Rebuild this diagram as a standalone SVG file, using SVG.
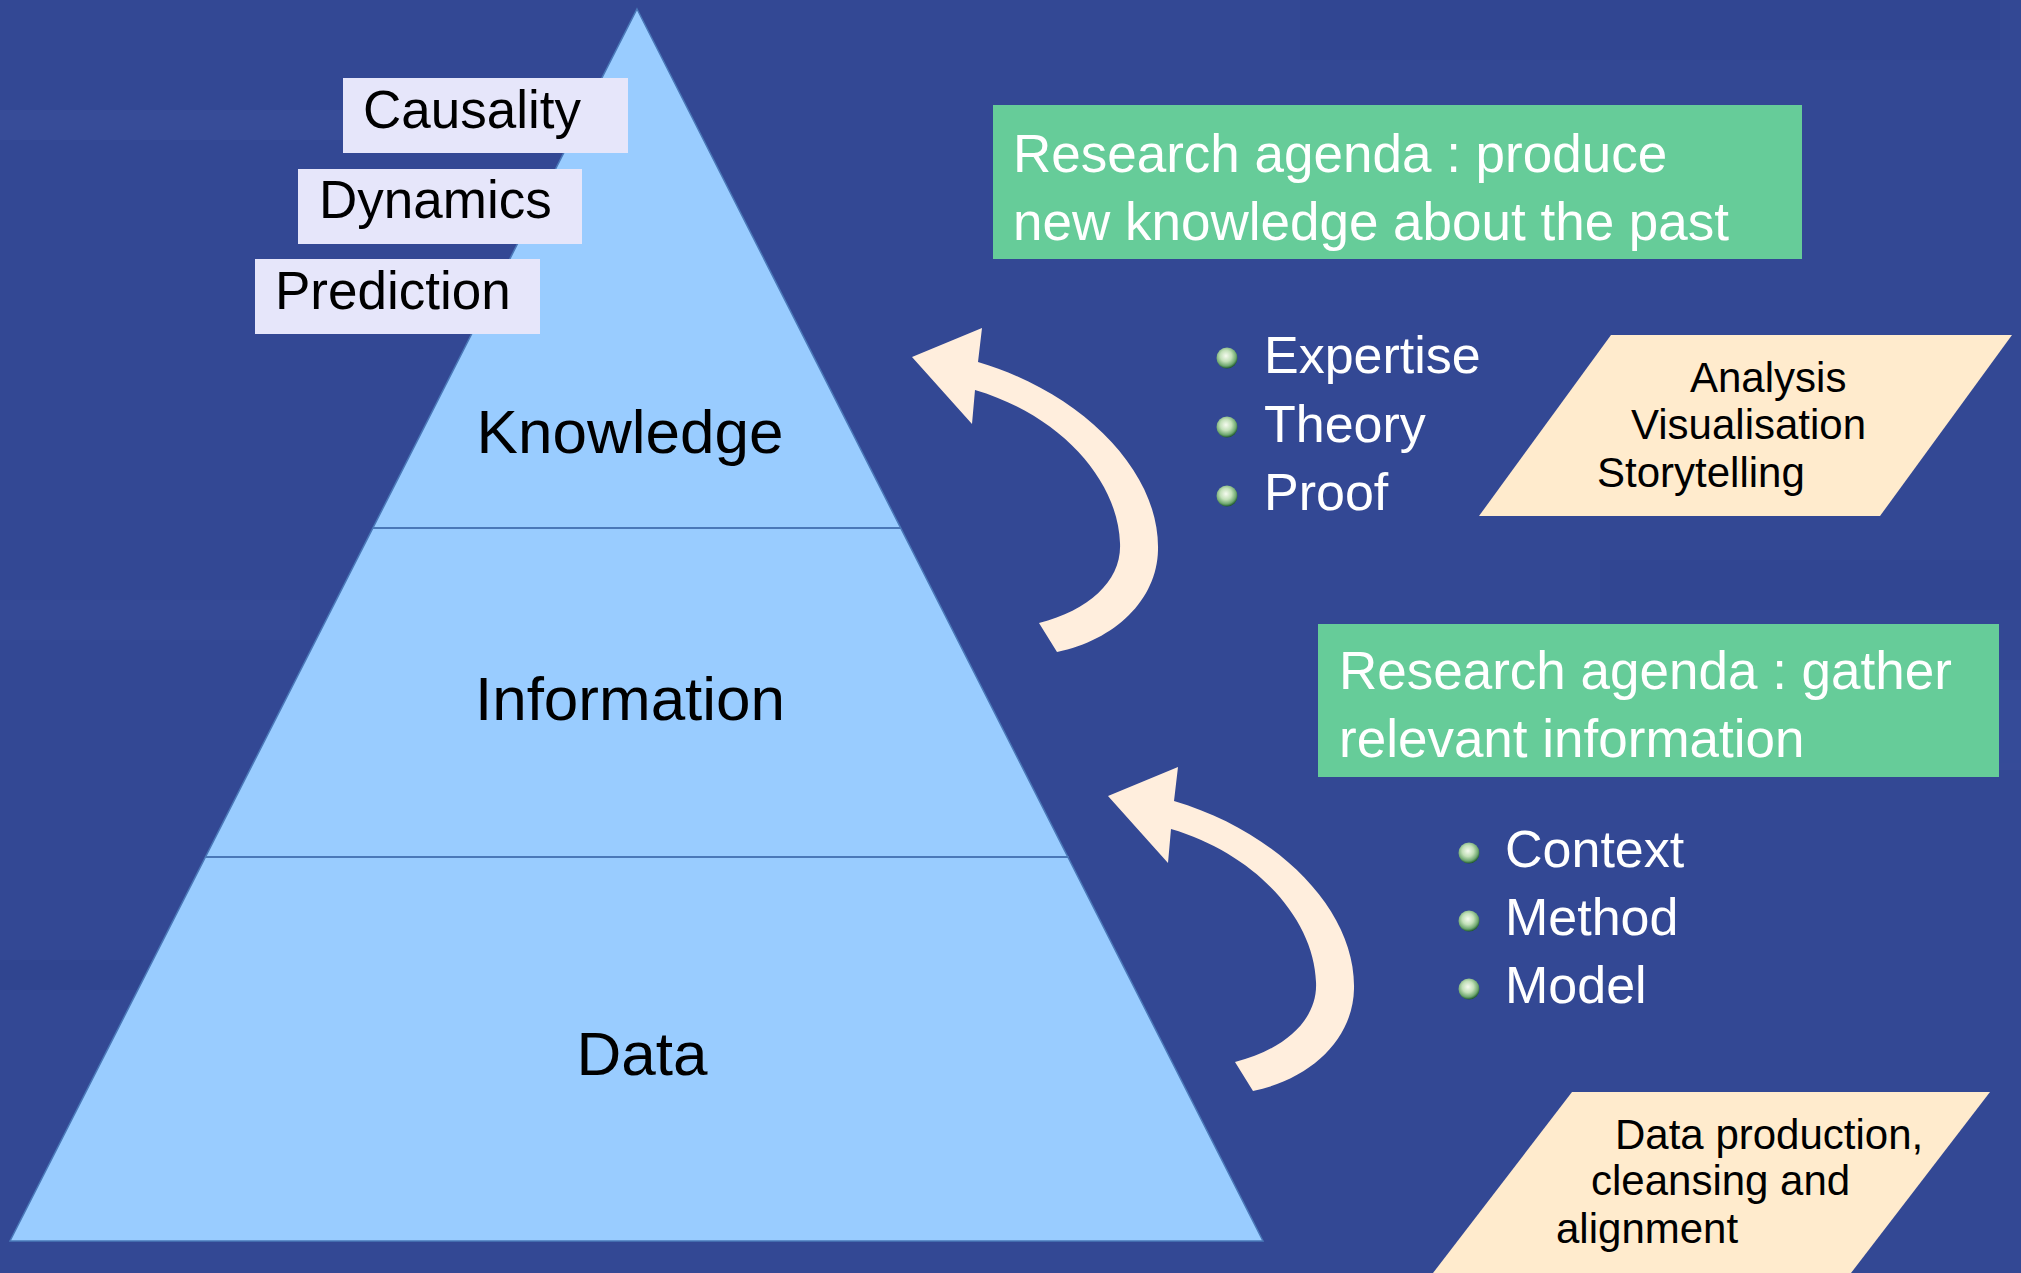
<svg xmlns="http://www.w3.org/2000/svg" width="2021" height="1273" viewBox="0 0 2021 1273">
  <style>
    .t { font-family: "Liberation Sans", Arial, sans-serif; }
    .lbl { fill: #E6E6FA; }
    .lbltxt { font-size: 53px; fill: #000; }
    .lvl { font-size: 62px; fill: #000; text-anchor: middle; }
    .agenda { fill: #66CC99; }
    .agtxt { font-size: 53px; fill: #FFFFFF; }
    .bul { font-size: 52px; fill: #FFFFFF; }
    .para { fill: #FFEBCD; }
    .ptxt { font-size: 42px; fill: #000; }
    .div { stroke: #4A78B8; stroke-width: 2; }
    .arrow { fill: #FFEEDD; }
  </style>
  <defs>
    <radialGradient id="ball" cx="45%" cy="40%" r="60%">
      <stop offset="0" stop-color="#F6FBF0"/>
      <stop offset="0.45" stop-color="#C2E0B8"/>
      <stop offset="0.8" stop-color="#6FA870"/>
      <stop offset="1" stop-color="#1F5A2E"/>
    </radialGradient>
    <path id="curvedArrow" d="M978,362 C1080,392 1160,470 1158,550 C1157,600 1115,640 1057,652 L1039,623 C1090,610 1122,580 1120,543 C1118,480 1060,415 975,390 L972,424 L912,357 L982,328 Z"/>
  </defs>

  <!-- background -->
  <rect x="0" y="0" width="2021" height="1273" fill="#334894"/>
  <g opacity="0.35">
    <rect x="0" y="110" width="420" height="30" fill="#3F55A0"/>
    <rect x="0" y="600" width="300" height="40" fill="#3A519C"/>
    <rect x="0" y="960" width="250" height="30" fill="#2C418A"/>
    <rect x="1300" y="0" width="700" height="60" fill="#2E4590"/>
    <rect x="1600" y="560" width="420" height="50" fill="#2E4590"/>
    <rect x="1900" y="680" width="121" height="90" fill="#3B52A0"/>
  </g>

  <!-- pyramid -->
  <g id="pyramid">
    <polygon points="637,9 1263,1241 10,1241" fill="#99CCFF" stroke="#4A78B8" stroke-width="1.5"/>
    <line class="div" x1="373" y1="528" x2="901" y2="528"/>
    <line class="div" x1="206" y1="857" x2="1069" y2="857"/>
  </g>
  <g id="level-knowledge"><text class="t lvl" x="630" y="453">Knowledge</text></g>
  <g id="level-information"><text class="t lvl" x="630" y="720">Information</text></g>
  <g id="level-data"><text class="t lvl" x="642" y="1075">Data</text></g>

  <!-- label boxes -->
  <g id="label-causality">
    <rect class="lbl" x="343" y="78" width="285" height="75"/>
    <text class="t lbltxt" x="363" y="128">Causality</text>
  </g>
  <g id="label-dynamics">
    <rect class="lbl" x="298" y="169" width="284" height="75"/>
    <text class="t lbltxt" x="319" y="218">Dynamics</text>
  </g>
  <g id="label-prediction">
    <rect class="lbl" x="255" y="259" width="285" height="75"/>
    <text class="t lbltxt" x="275" y="309">Prediction</text>
  </g>

  <!-- connectors -->
  <g id="connectors">
    <use href="#curvedArrow" class="arrow"/>
    <use href="#curvedArrow" class="arrow" transform="translate(196,439)"/>
  </g>

  <!-- agenda 1 -->
  <g id="agenda-produce">
    <rect class="agenda" x="993" y="105" width="809" height="154"/>
    <text class="t agtxt" x="1013" y="172">Research agenda : produce</text>
    <text class="t agtxt" x="1013" y="240">new knowledge about the past</text>
  </g>

  <!-- bullets 1 -->
  <g id="bullets-knowledge">
    <circle cx="1227" cy="358" r="10.5" fill="url(#ball)"/>
    <circle cx="1227" cy="427" r="10.5" fill="url(#ball)"/>
    <circle cx="1227" cy="496" r="10.5" fill="url(#ball)"/>
    <text class="t bul" x="1264" y="373">Expertise</text>
    <text class="t bul" x="1264" y="442">Theory</text>
    <text class="t bul" x="1264" y="510">Proof</text>
  </g>

  <!-- parallelogram 1 -->
  <g id="methods-analysis">
    <polygon class="para" points="1611,335 2012,335 1880,516 1479,516"/>
    <text class="t ptxt" x="1690" y="392">Analysis</text>
    <text class="t ptxt" x="1631" y="439">Visualisation</text>
    <text class="t ptxt" x="1597" y="487">Storytelling</text>
  </g>

  <!-- agenda 2 -->
  <g id="agenda-gather">
    <rect class="agenda" x="1318" y="624" width="681" height="153"/>
    <text class="t agtxt" x="1339" y="689">Research agenda : gather</text>
    <text class="t agtxt" x="1339" y="757">relevant information</text>
  </g>

  <!-- bullets 2 -->
  <g id="bullets-information">
    <circle cx="1469" cy="853" r="10.5" fill="url(#ball)"/>
    <circle cx="1469" cy="921" r="10.5" fill="url(#ball)"/>
    <circle cx="1469" cy="989" r="10.5" fill="url(#ball)"/>
    <text class="t bul" x="1505" y="867">Context</text>
    <text class="t bul" x="1505" y="935">Method</text>
    <text class="t bul" x="1505" y="1003">Model</text>
  </g>

  <!-- parallelogram 2 -->
  <g id="methods-data">
    <polygon class="para" points="1572,1092 1990,1092 1851,1273 1433,1273"/>
    <text class="t ptxt" x="1615" y="1149">Data production,</text>
    <text class="t ptxt" x="1591" y="1195">cleansing and</text>
    <text class="t ptxt" x="1556" y="1243">alignment</text>
  </g>
</svg>
